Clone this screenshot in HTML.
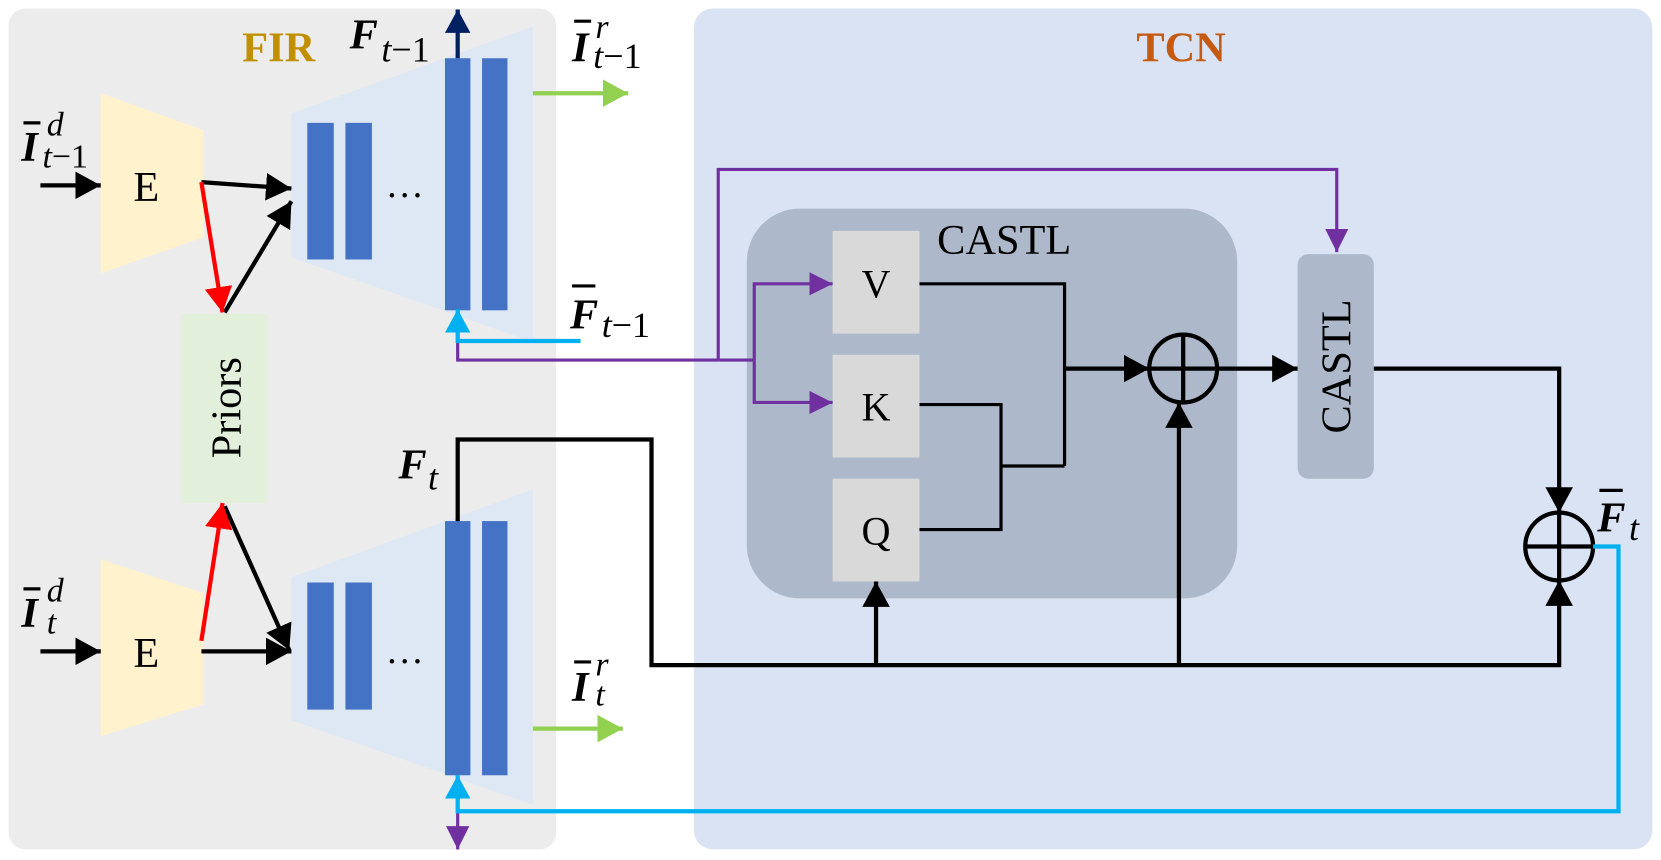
<!DOCTYPE html>
<html><head><meta charset="utf-8"><style>
html,body{margin:0;padding:0;background:#fff;}
svg{display:block;}
text{font-family:"Liberation Serif",serif;}
</style></head><body>
<svg width="1661" height="860" viewBox="0 0 1568 812" xmlns="http://www.w3.org/2000/svg">
<defs>
<marker id="ab" markerUnits="userSpaceOnUse" markerWidth="26" markerHeight="26" refX="24" refY="13" orient="auto"><path d="M0,0 L24,13 L0,26 Z" fill="#000"/></marker>
<marker id="ar" markerUnits="userSpaceOnUse" markerWidth="26" markerHeight="26" refX="24" refY="13" orient="auto"><path d="M0,0 L24,13 L0,26 Z" fill="#ff0000"/></marker>
<marker id="ap" markerUnits="userSpaceOnUse" markerWidth="24" markerHeight="22" refX="22" refY="11" orient="auto"><path d="M0,0 L22,11 L0,22 Z" fill="#7030a0"/></marker>
<marker id="ac" markerUnits="userSpaceOnUse" markerWidth="24" markerHeight="24" refX="22" refY="12" orient="auto"><path d="M0,0 L22,12 L0,24 Z" fill="#00b0f0"/></marker>
<marker id="ag" markerUnits="userSpaceOnUse" markerWidth="26" markerHeight="26" refX="24" refY="13" orient="auto"><path d="M0,0 L24,13 L0,26 Z" fill="#92d050"/></marker>
<marker id="an" markerUnits="userSpaceOnUse" markerWidth="24" markerHeight="24" refX="22" refY="12" orient="auto"><path d="M0,0 L22,12 L0,24 Z" fill="#002060"/></marker>
</defs>
<rect x="8" y="8" width="517" height="794" rx="16" fill="#ececec"/>
<rect x="655" y="8" width="905" height="794" rx="18" fill="#dae3f3"/>
<text x="263" y="58" font-size="40" font-weight="bold" fill="#c09000" text-anchor="middle">FIR</text>
<text x="1115" y="58" font-size="40" font-weight="bold" fill="#c55a11" text-anchor="middle">TCN</text>

<polygon points="95,88 192,123 192,224 95,258" fill="#fff2cc"/>
<polygon points="95,528 192,560 192,665 95,695" fill="#fff2cc"/>
<text x="138" y="190" font-size="40" text-anchor="middle">E</text>
<text x="138" y="630" font-size="40" text-anchor="middle">E</text>
<rect x="171" y="296" width="81" height="179" fill="#e2efda"/>
<text transform="translate(227,385) rotate(-90)" font-size="40" text-anchor="middle">Priors</text>

<polygon points="275,107 503,25 503,323 275,243" fill="#dee8f5"/>
<polygon points="275,545 503,462 503,760 275,680" fill="#dee8f5"/>
<g fill="#4472c4">
<rect x="290" y="116" width="25" height="129"/><rect x="326" y="116" width="25" height="129"/>
<rect x="420" y="55" width="24" height="238"/><rect x="455" y="55" width="24" height="238"/>
<rect x="290" y="550" width="25" height="120"/><rect x="326" y="550" width="25" height="120"/>
<rect x="420" y="492" width="24" height="240"/><rect x="455" y="492" width="24" height="240"/>
</g>
<text x="382" y="186" font-size="36" text-anchor="middle">…</text>
<text x="382" y="626" font-size="36" text-anchor="middle">…</text>

<g stroke="#000" stroke-width="4" fill="none">
<line x1="38" y1="175" x2="95" y2="175" marker-end="url(#ab)"/>
<line x1="38" y1="615" x2="95" y2="615" marker-end="url(#ab)"/>
<line x1="190" y1="172" x2="275" y2="178" marker-end="url(#ab)"/>
<line x1="212" y1="295" x2="275" y2="190" marker-end="url(#ab)"/>
<line x1="190" y1="615" x2="275" y2="615" marker-end="url(#ab)"/>
<line x1="212" y1="478" x2="273" y2="614" marker-end="url(#ab)"/>
</g>
<line x1="190" y1="172" x2="210" y2="295" stroke="#ff0000" stroke-width="4" marker-end="url(#ar)"/>
<line x1="190" y1="605" x2="210" y2="475" stroke="#ff0000" stroke-width="4" marker-end="url(#ar)"/>

<!-- labels -->
<text x="20" y="152" font-size="40" font-weight="bold" font-style="italic">I</text>
<line x1="22" y1="116" x2="38" y2="116" stroke="#000" stroke-width="3"/>
<text x="44" y="128" font-size="32" font-style="italic">d</text>
<text x="40" y="158" font-size="32"><tspan font-style="italic">t</tspan>−1</text>
<text x="20" y="592" font-size="40" font-weight="bold" font-style="italic">I</text>
<line x1="22" y1="556" x2="38" y2="556" stroke="#000" stroke-width="3"/>
<text x="44" y="568" font-size="32" font-style="italic">d</text>
<text x="44" y="598" font-size="32" font-style="italic">t</text>

<text x="330" y="46" font-size="40" font-weight="bold" font-style="italic">F</text>
<text x="360" y="58" font-size="34"><tspan font-style="italic">t</tspan>−1</text>
<line x1="432" y1="55" x2="432" y2="9" stroke="#002060" stroke-width="4" marker-end="url(#an)"/>

<text x="540" y="58" font-size="40" font-weight="bold" font-style="italic">I</text>
<line x1="542" y1="20" x2="558" y2="20" stroke="#000" stroke-width="3"/>
<text x="562" y="36" font-size="32" font-style="italic">r</text>
<text x="560" y="64" font-size="34"><tspan font-style="italic">t</tspan>−1</text>
<line x1="503" y1="88" x2="593" y2="88" stroke="#92d050" stroke-width="4" marker-end="url(#ag)"/>

<text x="540" y="662" font-size="40" font-weight="bold" font-style="italic">I</text>
<line x1="542" y1="625" x2="558" y2="625" stroke="#000" stroke-width="3"/>
<text x="562" y="638" font-size="32" font-style="italic">r</text>
<text x="562" y="666" font-size="32" font-style="italic">t</text>
<line x1="503" y1="688" x2="588" y2="688" stroke="#92d050" stroke-width="4" marker-end="url(#ag)"/>

<text x="538" y="310" font-size="40" font-weight="bold" font-style="italic">F</text>
<line x1="540" y1="270" x2="562" y2="270" stroke="#000" stroke-width="3"/>
<text x="568" y="318" font-size="34"><tspan font-style="italic">t</tspan>−1</text>

<text x="376" y="452" font-size="40" font-weight="bold" font-style="italic">F</text>
<text x="404" y="462" font-size="34" font-style="italic">t</text>

<rect x="705" y="197" width="463" height="368" rx="50" fill="#adb9ca"/>
<text x="948" y="240" font-size="40" text-anchor="middle">CASTL</text>
<rect x="786" y="218" width="82" height="97" fill="#d9d9d9"/>
<rect x="786" y="335" width="82" height="97" fill="#d9d9d9"/>
<rect x="786" y="452" width="82" height="97" fill="#d9d9d9"/>
<text x="827" y="281" font-size="38" text-anchor="middle">V</text>
<text x="827" y="397" font-size="38" text-anchor="middle">K</text>
<text x="827" y="514" font-size="38" text-anchor="middle">Q</text>
<rect x="1225" y="240" width="72" height="212" rx="10" fill="#adb9ca"/>
<text transform="translate(1275,346) rotate(-90)" font-size="40" text-anchor="middle">CASTL</text>

<g stroke="#000" stroke-width="3" fill="none">
<polyline points="868,268 1005,268 1005,440"/>
<polyline points="868,382 945,382 945,500 868,500"/>
<line x1="945" y1="440" x2="1005" y2="440"/>
</g>
<g stroke="#000" stroke-width="4" fill="none">
<line x1="1005" y1="348" x2="1085" y2="348" marker-end="url(#ab)"/>
<line x1="1149" y1="348" x2="1225" y2="348" marker-end="url(#ab)"/>
<polyline points="1297,348 1472,348 1472,484" marker-end="url(#ab)"/>
<polyline points="432,492 432,415 615,415 615,628 1472,628 1472,548" marker-end="url(#ab)"/>
<line x1="827" y1="628" x2="827" y2="549" marker-end="url(#ab)"/>
<line x1="1113" y1="628" x2="1113" y2="380" marker-end="url(#ab)"/>
<circle cx="1117" cy="348" r="32" fill="none"/>
<line x1="1085" y1="348" x2="1149" y2="348"/><line x1="1117" y1="316" x2="1117" y2="380"/>
<circle cx="1472" cy="516" r="32" fill="none"/>
<line x1="1440" y1="516" x2="1504" y2="516"/><line x1="1472" y1="484" x2="1472" y2="548"/>
</g>
<text x="1508" y="502" font-size="40" font-weight="bold" font-style="italic">F</text>
<line x1="1510" y1="463" x2="1532" y2="463" stroke="#000" stroke-width="3"/>
<text x="1538" y="510" font-size="34" font-style="italic">t</text>

<g stroke="#7030a0" stroke-width="3" fill="none">
<polyline points="432,322 432,340 678,340"/>
<polyline points="678,340 678,160 1262,160 1262,238" marker-end="url(#ap)"/>
<line x1="678" y1="340" x2="712" y2="340"/>
<polyline points="712,340 712,268 786,268" marker-end="url(#ap)"/>
<polyline points="712,340 712,380 786,380" marker-end="url(#ap)"/>
<line x1="432" y1="766" x2="432" y2="802" marker-end="url(#ap)"/>
</g>
<g stroke="#00b0f0" stroke-width="4" fill="none">
<polyline points="548,322 432,322 432,292" marker-end="url(#ac)"/>
<polyline points="1504,516 1528,516 1528,766 432,766 432,732" marker-end="url(#ac)"/>
</g>
</svg>
</body></html>
